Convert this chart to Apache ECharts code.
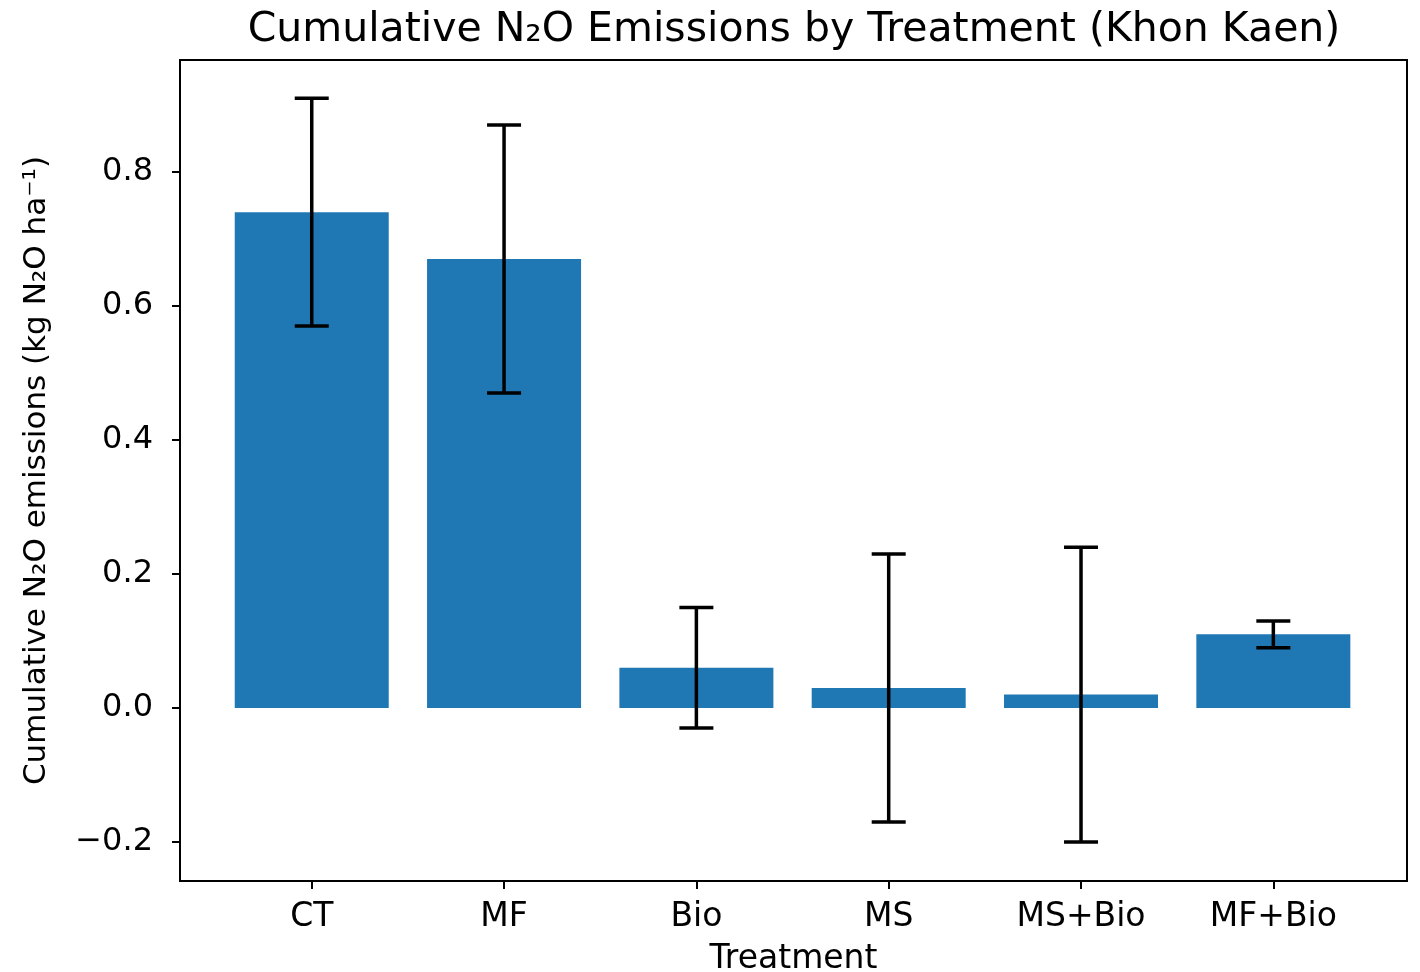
<!DOCTYPE html>
<html>
<head>
<meta charset="utf-8">
<script src="https://cdn.jsdelivr.net/npm/echarts@6/dist/echarts.min.js"></script>
<style>html,body{margin:0;padding:0;background:#fff;}#c{width:1420px;height:972px;}</style>
</head>
<body>
<div id="c"></div>
<script>
const categories = ['CT', 'MF', 'Bio', 'MS', 'MS+Bio', 'MF+Bio'];
const means = [0.74, 0.67, 0.06, 0.03, 0.02, 0.11];
const errors = [0.17, 0.20, 0.09, 0.20, 0.22, 0.02];
const yTicks = [-0.2, 0.0, 0.2, 0.4, 0.6, 0.8];

const FONT = 'DejaVu Sans';
const chart = echarts.init(document.getElementById('c'));

const barData = means.map((v, i) => [i, v]);
const errData = means.map((v, i) => [i, v - errors[i], v + errors[i]]);

chart.setOption({
  animation: false,
  backgroundColor: '#fff',
  title: {
    text: 'Cumulative N\u2082O Emissions by Treatment (Khon Kaen)',
    left: 789, top: 5, textAlign: 'center',
    textStyle: { fontFamily: FONT, fontSize: 41, fontWeight: 'normal', color: '#000' }
  },
  grid: {
    left: 180, right: 13, top: 60, bottom: 91,
    outerBoundsMode: 'none', containLabel: false,
    show: true, borderColor: '#000', borderWidth: 2, backgroundColor: 'transparent'
  },
  xAxis: {
    type: 'value', min: -0.685, max: 5.695,
    name: 'Treatment', nameLocation: 'middle', nameGap: 62,
    nameTextStyle: { fontFamily: FONT, fontSize: 33, color: '#000' },
    axisLine: { show: true, onZero: false, lineStyle: { color: '#000', width: 2 } },
    axisTick: { show: true, length: 8, lineStyle: { color: '#000', width: 2 }, customValues: [0, 1, 2, 3, 4, 5] },
    axisLabel: {
      customValues: [0, 1, 2, 3, 4, 5], margin: 20,
      fontFamily: FONT, fontSize: 33, color: '#000',
      formatter: v => categories[Math.round(v)] || ''
    },
    splitLine: { show: false }
  },
  yAxis: {
    type: 'value', min: -0.2582, max: 0.9672,
    name: 'Cumulative N\u2082O emissions (kg N\u2082O ha\u207B\u00B9)',
    nameLocation: 'middle', nameGap: 128, nameRotate: 90,
    nameTextStyle: { fontFamily: FONT, fontSize: 31, color: '#000' },
    axisLine: { show: true, onZero: false, lineStyle: { color: '#000', width: 2 } },
    axisTick: { show: true, length: 8, lineStyle: { color: '#000', width: 2 }, customValues: yTicks },
    axisLabel: {
      customValues: yTicks, margin: 27,
      fontFamily: FONT, fontSize: 32, color: '#000',
      formatter: v => (v < 0 ? '\u2212' : '') + Math.abs(v).toFixed(1)
    },
    splitLine: { show: false }
  },
  series: [
    {
      type: 'bar', data: barData, barWidth: 154,
      itemStyle: { color: '#1f77b4' }
    },
    {
      type: 'custom', data: errData, z: 10,
      renderItem: function (params, api) {
        const x = api.value(0);
        const lo = api.coord([x, api.value(1)]);
        const hi = api.coord([x, api.value(2)]);
        const cap = 17;
        const st = { stroke: '#000', lineWidth: 3.5 };
        return {
          type: 'group',
          children: [
            { type: 'line', shape: { x1: lo[0], y1: lo[1], x2: hi[0], y2: hi[1] }, style: st },
            { type: 'line', shape: { x1: lo[0] - cap, y1: lo[1], x2: lo[0] + cap, y2: lo[1] }, style: st },
            { type: 'line', shape: { x1: hi[0] - cap, y1: hi[1], x2: hi[0] + cap, y2: hi[1] }, style: st }
          ]
        };
      }
    }
  ]
});
</script>
</body>
</html>
